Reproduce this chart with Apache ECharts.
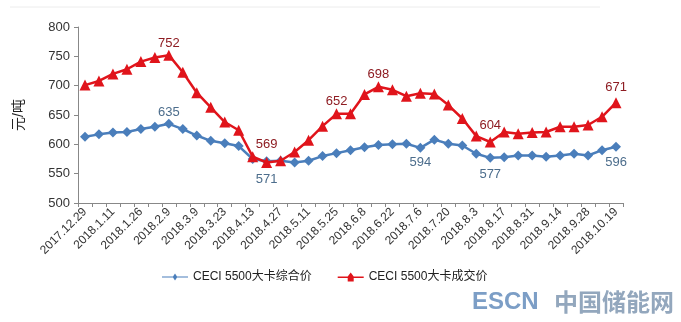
<!DOCTYPE html>
<html>
<head>
<meta charset="utf-8">
<script src="https://cdn.jsdelivr.net/npm/echarts@6/dist/echarts.min.js"></script>
<style>
  html, body { margin: 0; padding: 0; background: #ffffff; }
  #chart { width: 681px; height: 322px; }
</style>
</head>
<body>
<div id="chart"></div>
<script>
// Weekly CECI 5500 kcal coal price index, yuan per tonne
const dates = [
  '2017.12.29', '2018.1.5', '2018.1.11', '2018.1.19', '2018.1.26', '2018.2.2',
  '2018.2.9', '2018.3.2', '2018.3.9', '2018.3.16', '2018.3.23', '2018.3.30',
  '2018.4.13', '2018.4.20', '2018.4.27', '2018.5.4', '2018.5.11', '2018.5.18',
  '2018.5.25', '2018.6.1', '2018.6.8', '2018.6.15', '2018.6.22', '2018.6.29',
  '2018.7.6', '2018.7.13', '2018.7.20', '2018.7.27', '2018.8.3', '2018.8.10',
  '2018.8.17', '2018.8.24', '2018.8.31', '2018.9.7', '2018.9.14', '2018.9.21',
  '2018.9.28', '2018.10.12', '2018.10.19'
];

const compositePrice = [
  613, 617, 620, 621, 626, 630, 635, 626, 615, 606, 602, 597, 575,
  571, 572, 569, 572, 580, 585, 590, 595, 599, 600, 601, 594, 608,
  601, 598, 584, 577, 578, 581, 581, 579, 581, 584, 581, 590, 596
];

const dealPrice = [
  701, 708, 720, 728, 741, 748, 752, 723, 688, 663, 638, 624, 579,
  569, 572, 587, 607, 631, 652, 652, 685, 698, 693, 682, 687, 686,
  667, 644, 614, 604, 621, 618, 620, 621, 630, 630, 633, 647, 671
];

// Points whose values are printed next to the marker
const compositeLabelIdx = [6, 13, 24, 29, 38];
const dealLabelIdx = [6, 13, 18, 21, 29, 38];

const seriesNames = ['CECI 5500大卡综合价', 'CECI 5500大卡成交价'];
const yTicks = { min: 500, max: 800, step: 50 };

const FONT = '"Liberation Sans", "Noto Sans CJK SC", sans-serif';
const BLUE = '#4a7ebb';
const RED = '#e0141b';

const blueLabelPlace = {
  6: { position: 'top', distance: 0, offset: [4, 1] },
  13: { position: 'bottom', distance: 7, offset: [5, 0] },
  24: { position: 'bottom', distance: 3, offset: [10, 0] },
  29: { position: 'bottom', distance: 5, offset: [3, 0] },
  38: { position: 'bottom', distance: 4, offset: [7, 0] }
};
const redLabelPlace = {
  6: { position: 'top', distance: 0, offset: [13, 1] },
  13: { position: 'top', distance: 6, offset: [6, 0] },
  18: { position: 'top', distance: 0, offset: [1, 1] },
  21: { position: 'top', distance: 0, offset: [6, 0] },
  29: { position: 'top', distance: 5, offset: [2, 0] },
  38: { position: 'top', distance: 3, offset: [6, 0] }
};

function buildData(values, labelIdx, place, color) {
  return values.map(function (v, i) {
    if (labelIdx.indexOf(i) < 0) return v;
    const p = place[i];
    return {
      value: v,
      label: {
        show: true,
        position: p.position,
        distance: p.distance,
        offset: p.offset || [0, 0],
        color: color,
        fontSize: 13,
        fontFamily: FONT
      }
    };
  });
}

const chart = echarts.init(document.getElementById('chart'), null, { renderer: 'canvas' });

chart.setOption({
  animation: false,
  backgroundColor: '#ffffff',
  grid: { left: 78, right: 58, top: 27, bottom: 119, containLabel: false },
  legend: {
    bottom: 34,
    left: 157,
    itemGap: 26,
    itemWidth: 26,
    itemHeight: 9,
    textStyle: { fontFamily: FONT, fontSize: 12, color: '#222' },
    data: [
      { name: seriesNames[0], icon: 'path://M0,4 L11,4 L13,1 L15,4 L26,4 L26,5 L15,5 L13,8 L11,5 L0,5 Z' },
      { name: seriesNames[1], icon: 'path://M0,4 L10,4 L13,0 L16,4 L26,4 L26,5.4 L16,5.4 L16,9 L10,9 L10,5.4 L0,5.4 Z' }
    ]
  },
  xAxis: {
    type: 'category',
    data: dates,
    boundaryGap: true,
    axisLine: { lineStyle: { color: '#888', width: 1 } },
    axisTick: { show: true, interval: 0, length: 4, lineStyle: { color: '#888' } },
    axisLabel: {
      interval: 1,
      rotate: 45,
      margin: 7,
      fontSize: 12,
      fontFamily: FONT,
      color: '#333'
    }
  },
  yAxis: {
    type: 'value',
    min: yTicks.min,
    max: yTicks.max,
    interval: yTicks.step,
    name: '元/吨',
    nameLocation: 'middle',
    nameGap: 52,
    nameRotate: 90,
    nameTextStyle: { fontFamily: FONT, fontSize: 14, color: '#222' },
    axisLine: { show: true, lineStyle: { color: '#888', width: 1 } },
    axisTick: { show: true, length: 4, lineStyle: { color: '#888' } },
    splitLine: { show: false },
    axisLabel: { fontSize: 13, fontFamily: FONT, color: '#333', margin: 8 }
  },
  series: [
    {
      name: seriesNames[0],
      type: 'line',
      data: buildData(compositePrice, compositeLabelIdx, blueLabelPlace, '#4c6d8c'),
      symbol: 'diamond',
      symbolSize: 10,
      showSymbol: true,
      showAllSymbol: true,
      itemStyle: { color: BLUE },
      lineStyle: { color: BLUE, width: 2.5 },
      label: { show: false },
      labelLayout: { hideOverlap: false },
      z: 2
    },
    {
      name: seriesNames[1],
      type: 'line',
      data: buildData(dealPrice, dealLabelIdx, redLabelPlace, '#8e1c22'),
      symbol: 'triangle',
      symbolSize: 11,
      showSymbol: true,
      showAllSymbol: true,
      itemStyle: { color: RED },
      lineStyle: { color: RED, width: 2.5 },
      label: { show: false },
      labelLayout: { hideOverlap: false },
      z: 3
    }
  ],
  graphic: [
    {
      type: 'line',
      shape: { x1: 10, y1: 7, x2: 600, y2: 7 },
      style: { stroke: '#ececec', lineWidth: 1 },
      silent: true
    },
    {
      type: 'text',
      left: 472,
      top: 290,
      style: {
        text: 'ESCN',
        fontFamily: '"Liberation Sans", sans-serif',
        fontWeight: 'bold',
        fontSize: 24,
        fill: '#7c9ec6'
      }
    },
    {
      type: 'text',
      left: 554,
      top: 290,
      style: {
        text: '中国储能网',
        fontFamily: '"Noto Sans CJK SC", sans-serif',
        fontWeight: 'bold',
        fontSize: 24,
        fill: '#93a7bd'
      }
    }
  ]
});
</script>
</body>
</html>
